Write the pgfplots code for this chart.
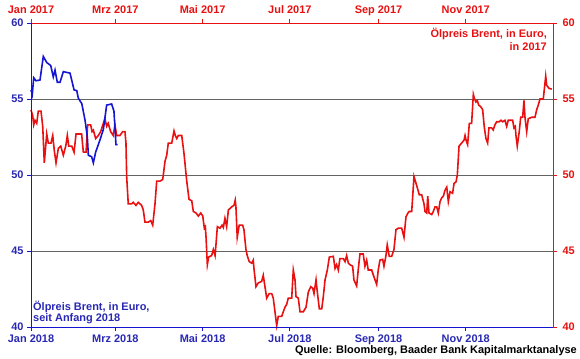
\documentclass[border=0pt]{standalone}
\usepackage{pgfplots}
\pgfplotsset{compat=1.18}
\usepackage{fontspec}
\setmainfont{Liberation Sans}
\definecolor{bblue}{RGB}{20,20,210}
\definecolor{tblue}{RGB}{40,40,180}
\definecolor{bred}{RGB}{232,16,16}
\definecolor{ggrid}{RGB}{100,100,100}
\begin{document}
\begin{tikzpicture}
\pgfplotsset{
  every tick label/.append style={font=\bfseries\fontsize{11}{13}\selectfont},
  /pgf/number format/assume math mode=true,
}
\begin{axis}[name=ax,
  width=522bp, height=304bp, scale only axis,
  xmin=0, xmax=365, ymin=40, ymax=60,
  axis x line*=top, axis y line*=right,
  axis line style={bred, line width=0.9bp, -},
  xtick={0,59,120,181,243,304},
  xticklabels={Jan 2017,Mrz 2017,Mai 2017,Jul 2017,Sep 2017,Nov 2017},
  ytick={40,45,50,55,60},
  tick align=outside, major tick length=4bp,
  tick style={bred, line width=0.8bp},
  ticklabel style={text=bred},
  xticklabel style={yshift=2bp, text depth=0pt},
  yticklabel style={xshift=2bp},
  ymajorgrids, grid style={ggrid, line width=0.8bp},
  clip=false,
]
\addplot[bred, line width=1.6bp] coordinates {
(0,54.28)(1.2,53.9)(1.9,53.3)(2.8,53.6)(4.0,53.4)(5.1,54.2)(7.0,54.2)(8.2,53.2)(9.3,50.8)(11.0,52.7)
(12.1,52.1)(14.0,52.1)(15.2,52.6)(16.3,51.6)(17.5,50.8)(19.1,51.75)(20.8,51.9)(22.6,51.3)(24.3,51.9)(25.4,52.6)
(26.4,51.9)(28.5,51.9)(30.1,51.5)(31.5,52.7)(35.4,52.7)(36.6,51.5)(38.5,51.5)(39.6,53.3)(41.7,53.3)(42.7,52.85)
(43.6,52.95)(45.2,52.4)(47.1,52.6)(48.7,52.85)(50.6,53.4)(51.7,53.7)(52.9,53.2)(54.0,53.4)(55.7,52.85)(57.5,52.6)
(58.7,53.3)(59.9,52.6)(62.2,52.6)(64.1,52.85)(65.7,52.85)(66.4,52.1)(66.9,49.9)(68.0,48.1)(70.4,48.1)(71.5,48.2)
(73.4,48.0)(75.0,48.2)(77.4,48.0)(78.5,47.7)(79.7,46.9)(82.0,46.9)(83.7,47.0)(85.1,46.7)(86.7,48.1)(87.9,49.6)
(90.2,49.6)(92.1,49.7)(93.7,50.9)(94.9,51.3)(96.0,52.1)(98.4,52.1)(100.0,52.9)(100.9,52.6)(101.9,52.4)(103.0,52.6)
(105.4,52.6)(107.0,51.4)(108.9,49.6)(110.5,48.4)(112.4,48.3)(113.5,47.6)(115.4,47.5)(117.0,47.3)(118.7,47.5)(120.1,47.3)
(121.2,46.5)(121.9,46.6)(122.4,45.9)(123.3,44.1)(124.2,44.6)(126.3,44.7)(127.5,45.1)(128.7,44.7)(129.4,45.5)(130.3,46.6)
(132.2,46.5)(133.6,46.7)(134.5,46.55)(135.6,47.15)(136.8,46.6)(138.0,47.7)(140.3,47.9)(141.9,48.0)(142.8,48.35)(143.3,47.9)
(144.2,45.9)(145.6,46.7)(148.0,46.7)(148.9,46.4)(150.3,45.1)(151.2,44.7)(152.6,44.3)(154.3,44.2)(155.4,44.4)(155.9,43.85)
(157.3,42.65)(158.9,42.9)(161.3,43.0)(162.4,43.4)(163.6,42.65)(164.8,41.9)(166.6,42.2)(168.3,42.2)(169.4,41.9)(170.6,41.0)
(171.8,40.1)(172.9,40.7)(175.3,40.7)(176.4,41.0)(177.6,41.3)(178.8,41.5)(179.9,41.9)(182.3,41.9)(183.4,43.75)(184.6,43.1)
(185.3,42.0)(186.9,41.9)(188.1,41.0)(190.4,41.0)(192.3,41.3)(193.9,42.3)(195.6,42.65)(197.0,42.55)(197.9,42.2)(199.3,43.1)
(200.2,42.3)(201.6,41.2)(203.3,41.2)(204.4,42.0)(205.6,43.1)(207.2,43.75)(208.6,44.6)(211.4,44.65)(212.6,43.85)(213.7,44.1)
(214.9,43.75)(216.0,44.5)(218.4,44.5)(219.6,44.3)(220.7,44.7)(221.9,44.2)(223.0,44.1)(224.9,44.0)(225.8,43.1)(227.7,42.7)
(228.8,43.75)(230.0,44.8)(232.3,44.8)(233.5,44.0)(234.7,44.4)(235.8,43.75)(238.2,43.75)(239.8,43.3)(241.7,42.8)(242.8,43.75)
(244.0,44.4)(245.9,44.45)(246.8,44.0)(248.2,44.7)(249.1,45.4)(250.5,44.65)(252.2,44.65)(253.8,45.1)(255.2,46.4)(256.8,46.5)
(259.2,46.5)(260.8,45.9)(262.2,47.25)(263.6,47.5)(264.5,47.6)(266.2,47.6)(267.8,49.9)(269.7,49.3)(271.5,48.7)(273.2,48.7)
(274.8,48.1)(275.5,47.6)(276.7,47.5)(277.4,48.6)(278.3,47.5)(280.2,47.4)(281.3,47.6)(282.5,47.9)(283.7,47.9)(284.8,47.5)
(286.0,48.25)(287.2,48.5)(288.3,48.6)(289.5,49.0)(290.7,49.2)(291.8,48.25)(293.0,48.9)(294.8,48.8)(295.8,49.45)(297.2,49.55)
(298.1,50.0)(299.3,51.9)(301.1,52.1)(302.8,52.3)(303.5,52.6)(304.2,52.3)(305.3,52.0)(306.5,53.4)(308.1,53.4)(309.3,55.3)
(310.0,55.05)(311.1,54.8)(312.1,54.9)(313.0,54.6)(314.4,54.5)(315.8,54.3)(316.9,53.2)(318.1,52.4)(319.3,52.1)(320.2,53.1)
(322.1,53.1)(323.2,52.96)(324.4,53.3)(325.6,53.5)(327.4,53.5)(328.6,53.6)(329.8,53.5)(331.4,53.6)(332.6,53.2)(333.7,53.6)
(336.8,53.6)(337.7,53.1)(338.6,53.2)(339.1,52.6)(340.0,51.9)(341.4,52.85)(342.4,53.8)(343.8,53.8)(344.7,54.9)(345.4,53.8)
(346.6,52.85)(347.7,53.7)(350.1,53.8)(352.4,53.8)(353.6,54.3)(354.7,54.6)(355.9,55.0)(358.2,55.0)(359.9,56.5)(360.6,55.9)
(362.2,55.7)(364.1,55.65)
};
\node[anchor=north east, inner sep=0pt, align=right, text=bred,
  font=\bfseries\fontsize{11}{12.5}\selectfont]
  at ([xshift=-6bp,yshift=-5bp]rel axis cs:1,1) {Ölpreis Brent, in Euro,\\in 2017};
\end{axis}
\begin{axis}[
  width=522bp, height=304bp, scale only axis,
  xmin=0, xmax=365, ymin=40, ymax=60,
  axis x line*=bottom, axis y line*=left,
  axis line style={bblue, line width=0.9bp, -},
  xtick={0,59,120,181,243,304},
  xticklabels={Jan 2018,Mrz 2018,Mai 2018,Jul 2018,Sep 2018,Nov 2018},
  ytick={40,45,50,55,60},
  tick align=outside, major tick length=4bp,
  tick style={bblue, line width=0.8bp},
  ticklabel style={text=tblue},
  clip=false,
]
\addplot[bblue, line width=1.6bp] coordinates {
(0,55.6)(0.9,55.3)(1.9,56.4)(3.5,56.2)(6.3,56.25)(8.6,57.8)(11.0,57.4)(13.8,57.2)(15.6,56.45)(16.8,56.9)
(18.4,56.1)(20.3,56.1)(22.6,56.8)(27.3,56.7)(30.1,55.6)(32.0,55.55)(33.1,55.05)(35.5,54.7)(37.8,53.6)(39.4,52.5)
(40.1,51.3)(42.4,51.2)(43.6,50.8)(45.2,51.5)(48.2,52.3)(50.6,53.0)(52.9,54.6)(56.4,54.67)(58.0,54.2)(59.4,52.0)
(60.6,52.0)
};
\node[anchor=south west, inner sep=0pt, align=left, text=tblue,
  font=\bfseries\fontsize{11}{11.5}\selectfont]
  at ([xshift=2bp,yshift=3bp]rel axis cs:0,0) {Ölpreis Brent, in Euro,\\seit Anfang 2018};
\end{axis}
\node[anchor=east, inner sep=0pt, font=\bfseries\fontsize{11}{13}\selectfont]
  at ([xshift=24bp,yshift=-23.5bp]ax.south east) {Quelle: Bloomberg, Baader Bank Kapitalmarktanalyse};
\path ([xshift=-31bp,yshift=-32bp]ax.south west) rectangle ++(580bp,359bp);
\end{tikzpicture}
\end{document}
